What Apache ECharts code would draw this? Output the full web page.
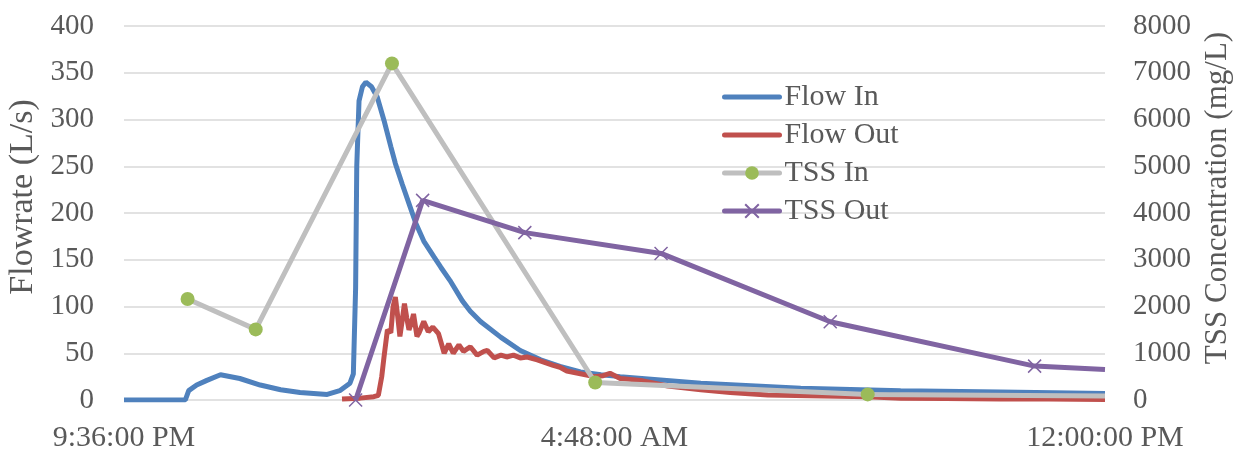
<!DOCTYPE html>
<html><head><meta charset="utf-8">
<script src="https://cdn.jsdelivr.net/npm/echarts@6/dist/echarts.min.js"></script>
<style>html,body{margin:0;padding:0;background:#fff}#c{width:1248px;height:453px}</style>
</head><body><div id="c"></div>
<script>
// Time values in minutes after midnight of the first day (1296 = 9:36 PM, 2160 = 12:00 PM next day)
const xTickMin = 1296, xTickMax = 2160, xTickStep = 432;

const flowInTime = [1296,1350,1353,1360,1369,1381,1398,1416,1434,1451,1475,1486,1495,1498,1500,1501,1503,1506,1509,1514,1519,1525,1531,1535,1541,1547,1553,1560,1569,1575,1583,1594,1601,1610,1628,1645,1663,1680,1698,1716,1733,1804,1892,1980,2068,2160];
const flowInVal  = [0,0,10,16,21,27,23,16,11,8,6,10,18,28,120,250,320,335,340,335,324,299,271,253,231,210,189,170,153,142,128,106,95,84,67,53,43,36,30,27,25,18,12.5,10,8.5,7];

const flowOutTime = [1488,1504,1516,1520,1523,1525,1528,1531,1533,1535,1537,1539,1541,1543,1545,1547,1549,1551,1554,1556,1560,1564,1568,1573,1578,1582,1586,1591,1595,1601,1607,1613,1616,1622,1628,1633,1639,1645,1651,1660,1667,1674,1680,1686,1698,1710,1718,1724,1733,1751,1775,1804,1830,1863,1900,1951,1980,2020,2068,2110,2160];
const flowOutVal  = [1,2,3.5,5,25,46,75,72,100,110,90,68,85,103,88,75,82,92,68,72,84,73,78,71,50,60,50,59,52,57,48,52,53,45,48,46,48,45,46,43,40,37,35,31,28,25,26,28.5,23,21,15,11,8,5.3,4.5,3.5,1.8,1.5,1,1,0.5];

const tssInTime = [1352,1412,1532,1711,1951,2160];
const tssInVal  = [2160,1510,7200,375,120,85];

const tssOutTime = [1500,1559,1649,1769,1918,2098,2160];
const tssOutVal  = [0,4270,3580,3135,1675,725,655];

const leftTicks = {min:0, max:400, step:50};
const rightTicks = {min:0, max:8000, step:1000};

const FONT = '"Times New Roman","Liberation Serif",serif';
const TXT = '#595959';

function zip(t, v){ return t.map((x,i)=>[x, v[i]]); }
function fmtTime(m){
  const h24 = Math.floor(m/60) % 24, mm = Math.round(m % 60);
  const ap = h24 >= 12 ? 'PM' : 'AM';
  let h = h24 % 12; if (h === 0) h = 12;
  return h + ':' + String(mm).padStart(2,'0') + ':00 ' + ap;
}

const tssInData = zip(tssInTime, tssInVal).map((p,i,a)=> i===a.length-1 ? {value:p, symbol:'none'} : p);
const tssOutData = zip(tssOutTime, tssOutVal).map((p,i,a)=> i===a.length-1 ? {value:p, symbol:'none'} : p);

const chart = echarts.init(document.getElementById('c'));
chart.setOption({
  animation:false,
  backgroundColor:'#fff',
  grid:{left:124, right:143, top:26, bottom:53, containLabel:false, outerBoundsMode:'none'},
  legend:{
    orient:'vertical', left:722, top:82, padding:0, itemWidth:55, itemHeight:17, itemGap:8,
    lineStyle:{width:5, cap:'round'},
    textStyle:{fontSize:30, color:TXT, fontFamily:FONT, lineHeight:30},
    data:[
      {name:'Flow In', itemStyle:{opacity:0}},
      {name:'Flow Out', itemStyle:{opacity:0}},
      {name:'TSS In'},
      {name:'TSS Out'}
    ]
  },
  xAxis:{
    type:'value', min:xTickMin, max:xTickMax, interval:xTickStep,
    axisLine:{show:false}, axisTick:{show:false}, splitLine:{show:false},
    axisLabel:{formatter:fmtTime, fontSize:30, color:TXT, fontFamily:FONT, margin:23, showMinLabel:true, showMaxLabel:true}
  },
  yAxis:[
    {type:'value', min:leftTicks.min, max:leftTicks.max, interval:leftTicks.step,
     name:'Flowrate (L/s)', nameLocation:'middle', nameGap:84, nameRotate:90,
     nameTextStyle:{fontSize:34, color:TXT, fontFamily:FONT, padding:[0,0,0,32]},
     axisLine:{show:false}, axisTick:{show:false},
     axisLabel:{fontSize:29, color:TXT, fontFamily:FONT, margin:30},
     splitLine:{lineStyle:{color:'#D9D9D9', width:1.5}}},
    {type:'value', min:rightTicks.min, max:rightTicks.max, interval:rightTicks.step, position:'right',
     name:'TSS Concentration (mg/L)', nameLocation:'middle', nameGap:95, nameRotate:90,
     nameTextStyle:{fontSize:31, color:TXT, fontFamily:FONT, padding:[0,0,0,30]},
     axisLine:{show:false}, axisTick:{show:false},
     axisLabel:{fontSize:29, color:TXT, fontFamily:FONT, margin:28, formatter:(v)=>String(v)},
     splitLine:{show:false}}
  ],
  series:[
    {name:'Flow In', type:'line', yAxisIndex:0, data:zip(flowInTime, flowInVal), symbol:'none',
     lineStyle:{color:'#4F81BD', width:5}, itemStyle:{color:'#4F81BD'}, z:2},
    {name:'Flow Out', type:'line', yAxisIndex:0, data:zip(flowOutTime, flowOutVal), symbol:'none',
     lineStyle:{color:'#C0504D', width:5}, itemStyle:{color:'#C0504D'}, z:3},
    {name:'TSS In', type:'line', yAxisIndex:1, data:tssInData, symbol:'circle', symbolSize:14,
     lineStyle:{color:'#BFBFBF', width:5}, itemStyle:{color:'#9BBB59'}, z:4},
    {name:'TSS Out', type:'line', yAxisIndex:1, data:tssOutData,
     symbol:'path://M0,0L10,10M10,0L0,10', symbolSize:13,
     lineStyle:{color:'#8064A2', width:5},
     itemStyle:{color:'rgba(0,0,0,0)', borderColor:'#8064A2', borderWidth:1.5}, z:5}
  ]
});
</script></body></html>
